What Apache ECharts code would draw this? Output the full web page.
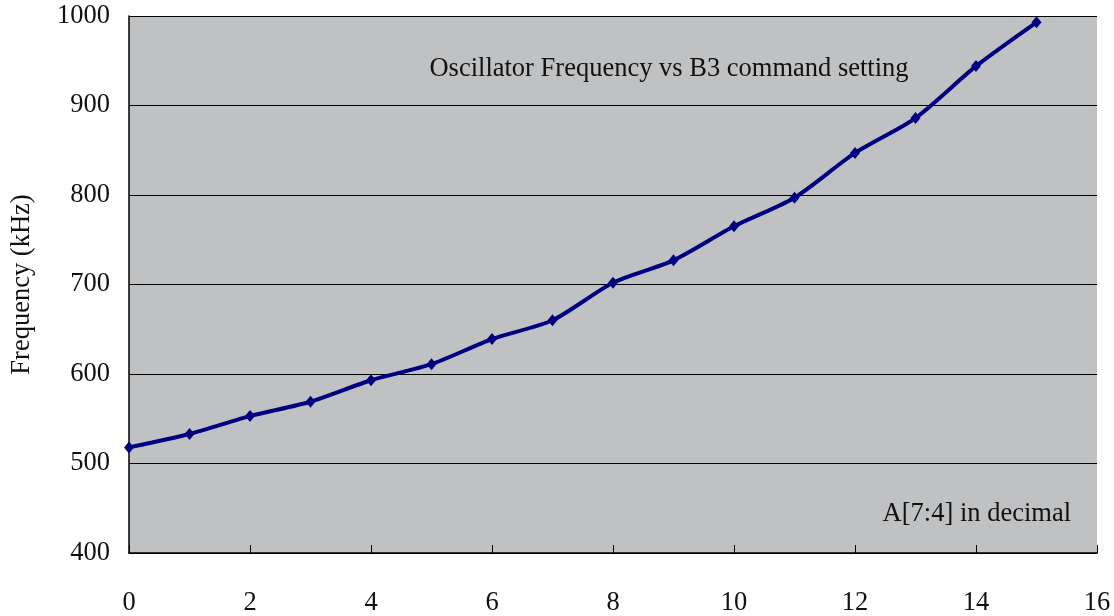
<!DOCTYPE html>
<html>
<head>
<meta charset="utf-8">
<script src="https://cdn.jsdelivr.net/npm/echarts@6/dist/echarts.min.js"></script>
<style>
  html, body { margin: 0; padding: 0; background: #ffffff; }
  #chart { width: 1114px; height: 616px; }
</style>
</head>
<body>
<div id="chart"></div>
<script>
// A[7:4] setting (decimal) and measured oscillator frequency in kHz
const settings = [0, 1, 2, 3, 4, 5, 6, 7, 8, 9, 10, 11, 12, 13, 14, 15];
const frequencyKHz = [518, 533, 553, 569, 593, 611, 639, 660, 702, 727, 765, 797, 847, 886, 944, 993];
const xTicks = [0, 2, 4, 6, 8, 10, 12, 14, 16];
const yTicks = [400, 500, 600, 700, 800, 900, 1000];

const chartTitle = 'Oscillator Frequency vs B3 command setting';
const xLabel = 'A[7:4] in decimal';
const yLabel = 'Frequency (kHz)';

const serif = '"Liberation Serif", "DejaVu Serif", serif';
const ink = '#111111';

const chart = echarts.init(document.getElementById('chart'), null, { renderer: 'canvas' });

chart.setOption({
  animation: false,
  backgroundColor: '#ffffff',
  title: [
    {
      text: chartTitle,
      left: 664, top: 51, textAlign: 'center',
      textStyle: { fontFamily: serif, fontSize: 26.5, fontWeight: 'normal', color: ink }
    },
    {
      text: xLabel,
      right: 38, top: 496,
      textStyle: { fontFamily: serif, fontSize: 26.5, fontWeight: 'normal', color: ink }
    }
  ],
  grid: {
    left: 129, right: 17, top: 16, bottom: 63,
    outerBoundsMode: 'none', containLabel: false,
    show: true, backgroundColor: '#c0c1c3', borderWidth: 0
  },
  xAxis: {
    type: 'value',
    min: xTicks[0], max: xTicks[xTicks.length - 1], interval: xTicks[1] - xTicks[0],
    axisLine: { show: true, onZero: false, lineStyle: { color: '#000', width: 1.5 } },
    axisTick: { show: true, inside: true, length: 8, lineStyle: { color: '#000', width: 1 } },
    axisLabel: { fontFamily: serif, fontSize: 26.5, color: ink, margin: 37 },
    splitLine: { show: false }
  },
  yAxis: {
    type: 'value',
    min: yTicks[0], max: yTicks[yTicks.length - 1], interval: yTicks[1] - yTicks[0],
    name: yLabel, nameLocation: 'middle', nameGap: 93, nameRotate: 90,
    nameTextStyle: { fontFamily: serif, fontSize: 26.5, color: ink },
    axisLine: { show: true, lineStyle: { color: '#000', width: 1.5 } },
    axisTick: { show: false },
    axisLabel: { fontFamily: serif, fontSize: 26.5, color: ink, margin: 19, formatter: v => String(v) },
    splitLine: { show: true, lineStyle: { color: '#000', width: 1 } }
  },
  series: [{
    type: 'line',
    data: settings.map((s, i) => [s, frequencyKHz[i]]),
    smooth: 0.25,
    symbol: 'diamond',
    symbolSize: [10, 12],
    showAllSymbol: true,
    lineStyle: { color: '#000080', width: 4 },
    itemStyle: { color: '#000080' }
  }]
});
</script>
</body>
</html>
